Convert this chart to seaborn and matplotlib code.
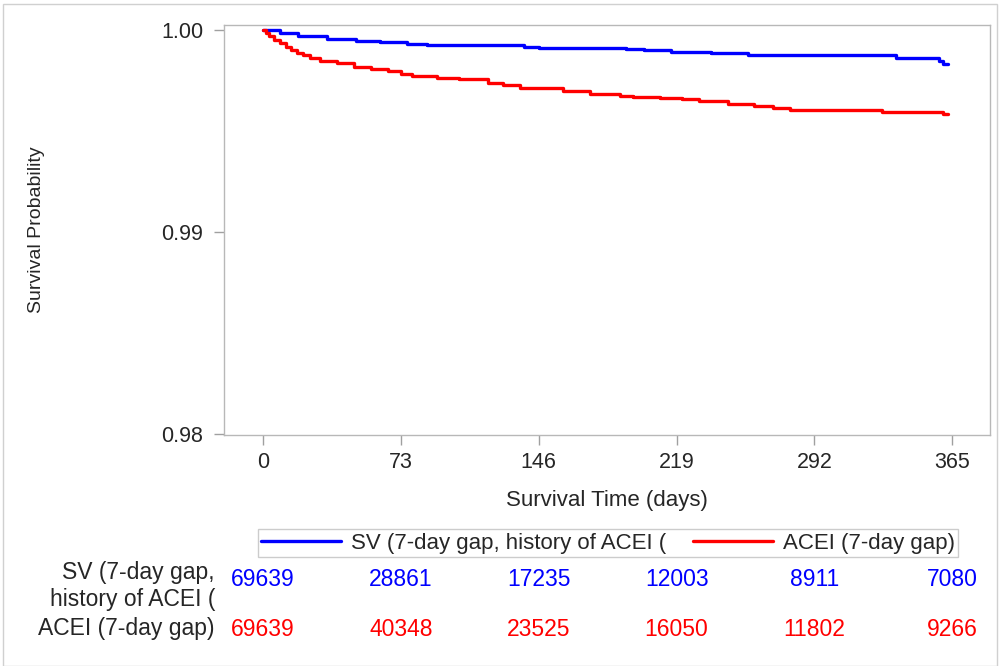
import numpy as np
import pandas as pd
import seaborn as sns
import matplotlib.pyplot as plt
from matplotlib.patches import Rectangle
import matplotlib.transforms as mtransforms

# Kaplan-Meier step points
sv_days = [0, 9, 18.5, 34, 49, 62, 76, 87, 138, 146, 192, 202, 216, 237, 257, 335, 358, 360, 363]
sv_surv = [1.0, 0.99985, 0.99970, 0.99958, 0.99948, 0.99941, 0.99933, 0.99926, 0.99918, 0.99913,
           0.99906, 0.99899, 0.99891, 0.99884, 0.99874, 0.99859, 0.99847, 0.99832, 0.99832]

acei_days = [0, 1.5, 3, 6, 9, 12, 15, 18, 21, 25, 30, 39, 48, 57, 66, 73, 79, 92, 104, 119, 127,
             136, 159, 173, 189, 196, 210, 222, 231, 246, 260, 270, 279, 328, 360, 363]
acei_surv = [1.0, 0.99985, 0.99968, 0.99950, 0.99936, 0.99918, 0.99902, 0.99886, 0.99874, 0.99861,
             0.99847, 0.99837, 0.99817, 0.99807, 0.99797, 0.99782, 0.99772, 0.99762, 0.99757,
             0.99738, 0.99728, 0.99713, 0.99698, 0.99683, 0.99673, 0.99668, 0.99663, 0.99658,
             0.99649, 0.99634, 0.99624, 0.99614, 0.99604, 0.99594, 0.99584, 0.99584]

groups = ["SV (7-day gap, history of ACEI (", "ACEI (7-day gap)"]
row_labels = ["SV (7-day gap,\nhistory of ACEI (", "ACEI (7-day gap)"]
tick_days = [0, 73, 146, 219, 292, 365]
sv_at_risk = [69639, 28861, 17235, 12003, 8911, 7080]
acei_at_risk = [69639, 40348, 23525, 16050, 11802, 9266]
colors = ["#0000FF", "#FF0000"]

df = pd.concat([
    pd.DataFrame({"day": sv_days, "surv": sv_surv, "group": groups[0]}),
    pd.DataFrame({"day": acei_days, "surv": acei_surv, "group": groups[1]}),
])

sns.set_style("white")
plt.rcParams["font.family"] = ["Liberation Sans", "DejaVu Sans"]

fig = plt.figure(figsize=(10, 6.66), dpi=100)
ax = fig.add_axes([0.224, 0.347, 0.766, 0.6155])

sns.lineplot(data=df, x="day", y="surv", hue="group", palette=colors, ax=ax,
             drawstyle="steps-post", linewidth=2.4, estimator=None, legend=False)

ax.set_xlim(-20.7, 385)
ax.set_ylim(0.97995, 1.00025)
ax.set_xticks(tick_days)
ax.set_yticks([0.98, 0.99, 1.00])
ax.set_yticklabels(["0.98", "0.99", "1.00"])
ax.tick_params(axis="both", which="major", direction="out", length=7, width=1,
               color="#a0a0a0", labelsize=15.5, left=True, bottom=True, pad=5.5)
ax.tick_params(axis="y", pad=8)
for s in ax.spines.values():
    s.set_color("#b8b8b8")
    s.set_linewidth(1)
ax.set_xlabel("Survival Time (days)", fontsize=16, labelpad=12)
ax.set_ylabel("Survival Probability", fontsize=14, labelpad=0)
ax.yaxis.set_label_coords(37 / 1000, 0.5,
                          transform=mtransforms.blended_transform_factory(fig.transFigure, ax.transAxes))
ax.yaxis.label.set_verticalalignment("center")

# legend
handles = [plt.Line2D([], [], color=c, linewidth=2.4) for c in colors]
leg = fig.legend(handles, groups, loc="center", bbox_to_anchor=(0.608, 1 - 543 / 666), ncol=2,
                 fontsize=16, frameon=True, fancybox=False, handlelength=3.6,
                 columnspacing=1.2, borderpad=0.15, handletextpad=0.45, borderaxespad=0)
leg.get_frame().set_edgecolor("#c0c0c0")
leg.get_frame().set_linewidth(1)

# at-risk table
trans = mtransforms.blended_transform_factory(ax.transData, fig.transFigure)
rows_y = [1 - 580 / 666, 1 - 629 / 666]
for vals, c, y in zip([sv_at_risk, acei_at_risk], colors, rows_y):
    for d, v in zip(tick_days, vals):
        ax.text(d, y, str(v), color=c, fontsize=16.5, ha="center", va="center",
                transform=trans, clip_on=False)
fig.text(0.215, 1 - 586 / 666, row_labels[0], ha="right", va="center", fontsize=16.5,
         linespacing=1.2)
fig.text(0.215, rows_y[1], row_labels[1], ha="right", va="center", fontsize=16.5)

fig.patches.append(Rectangle((0.003, 0.0), 0.994, 0.994, transform=fig.transFigure,
                             fill=False, edgecolor="#d0d0d0", linewidth=1))

fig.savefig("out.png", dpi=100)
